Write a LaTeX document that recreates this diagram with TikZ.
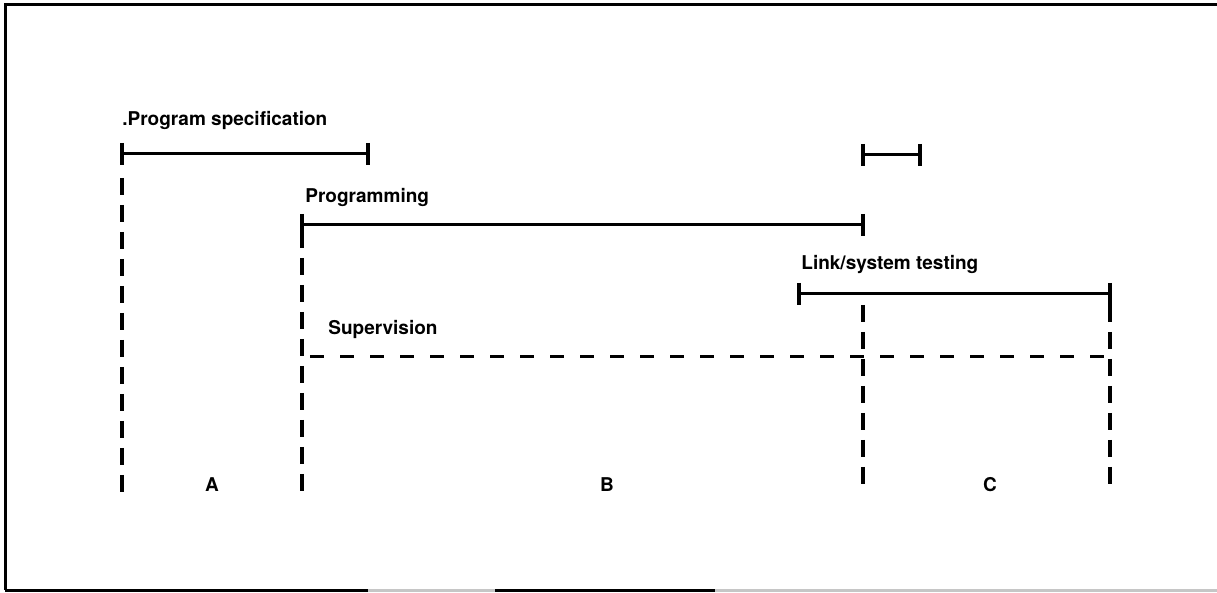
\documentclass[tikz,border=0pt]{standalone}
\usepackage{fontspec}
\setmainfont{TeX Gyre Heros}
\begin{document}
\begin{tikzpicture}[x=0.5pt,y=-0.5pt,
  lbl/.style={anchor=base west, inner sep=0pt, font=\fontsize{9.5}{11}\selectfont\bfseries},
  zone/.style={anchor=base, inner sep=0pt, font=\fontsize{9.5}{11}\selectfont\bfseries},
  bar/.style={line width=1.5pt},
  tickmark/.style={line width=1.6pt},
  vdash/.style={line width=1.6pt, dash pattern=on 8.5pt off 5pt},
  hdash/.style={line width=1.5pt, dash pattern=on 7pt off 8pt, dash phase=11pt},
  frameline/.style={line width=1.5pt}]
\useasboundingbox (0,0) rectangle (1217,593);

% open frame: top and left edges, bottom edge partly faded
\draw[frameline] (1217,5) -- (5,5) -- (5,590);
\draw[frameline] (5,590) -- (368,590);
\draw[frameline, gray!45] (368,590) -- (495,590);
\draw[frameline] (495,590) -- (715,590);
\draw[frameline, gray!45] (715,590) -- (1217,590);

% end points of the activity bars
\coordinate (ps1) at (122,154);  \coordinate (ps2) at (368,154);
\coordinate (sm1) at (863,155);  \coordinate (sm2) at (920,155);
\coordinate (pg1) at (302,225);  \coordinate (pg2) at (863,225);
\coordinate (lk1) at (799,294);  \coordinate (lk2) at (1110,294);
\coordinate (sv1) at (302,357);  \coordinate (sv2) at (1110,357);

% phase boundaries
\coordinate (a0) at (122,178);   \coordinate (a1) at (122,492);
\coordinate (b0) at (302,231);   \coordinate (b1) at (302,491);
\coordinate (c0) at (863,305);   \coordinate (c1) at (863,489);
\coordinate (d0) at (1110,305);  \coordinate (d1) at (1110,489);

% labels
\node[lbl] (tps) at (122,126) {.Program specification};
\node[lbl] (tpg) at (305,203) {Programming};
\node[lbl] (tlk) at (801,270) {Link/system testing};
\node[lbl] (tsv) at (328,335) {Supervision};
\node[zone] (za) at (212,492) {A};
\node[zone] (zb) at (607,492) {B};
\node[zone] (zc) at (990,492) {C};

% solid bars with end ticks
\draw[bar] (ps1) -- (ps2);
\draw[bar] (sm1) -- (sm2);
\draw[bar] (pg1) -- (pg2);
\draw[bar] (lk1) -- (lk2);
\foreach \c in {ps1,ps2,sm1,sm2,pg1,pg2,lk1,lk2}
  \draw[tickmark] ([yshift=5.5pt]\c) -- ([yshift=-5.5pt]\c);

% supervision span
\draw[hdash] (sv1) -- (sv2);

% dashed boundaries
\draw[vdash] (a0) -- (a1);
\draw[vdash] (b0) -- (b1);
\draw[vdash] (c0) -- (c1);
\draw[vdash] (d0) -- (d1);
\end{tikzpicture}
\end{document}
